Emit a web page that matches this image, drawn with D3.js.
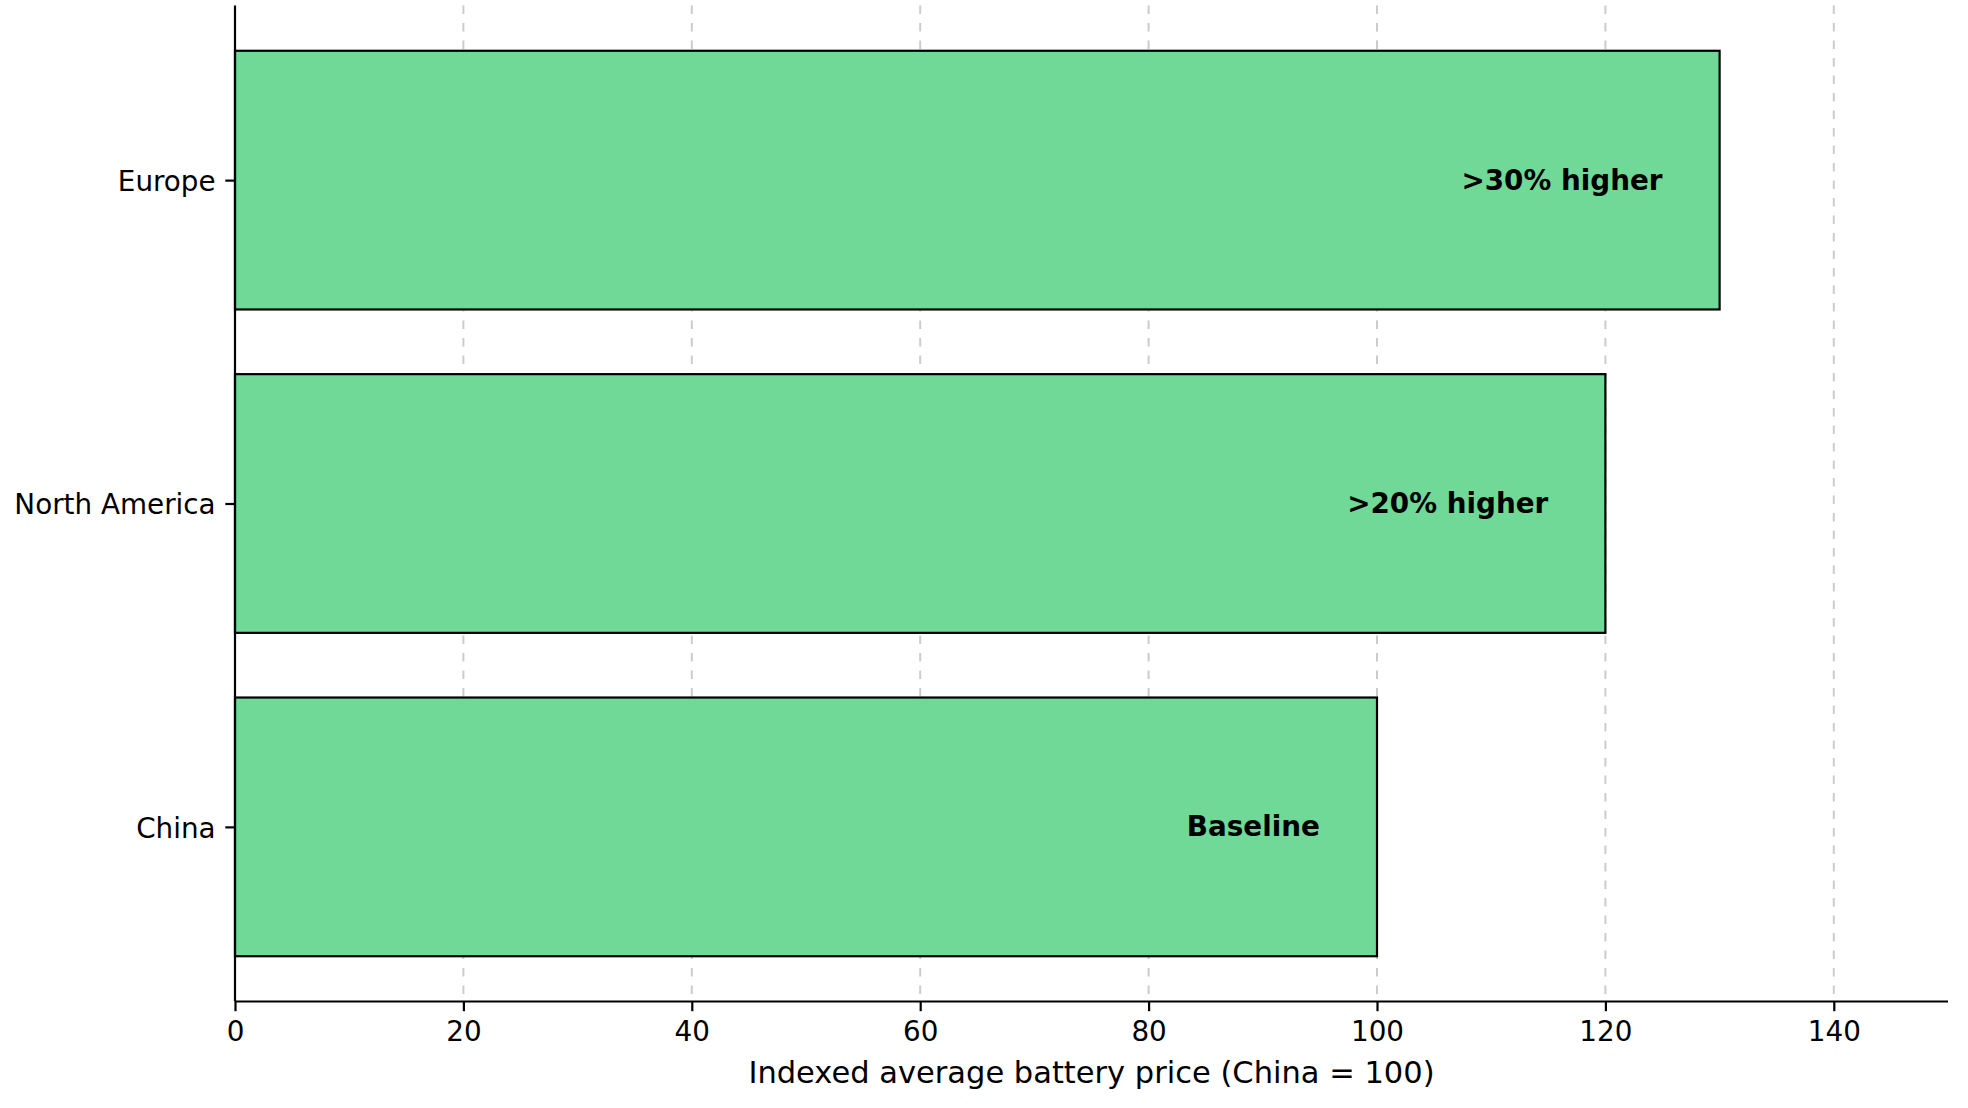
<!DOCTYPE html>
<html>
<head>
<meta charset="utf-8">
<script src="https://cdn.jsdelivr.net/npm/d3@7"></script>
<style>
  html, body { margin: 0; padding: 0; background: #fff; }
  svg { display: block; font-family: "DejaVu Sans", sans-serif; }
</style>
</head>
<body>
<svg id="chart" width="1968" height="1108"></svg>
<script>
const categories = ["China", "North America", "Europe"];
const values = [100, 120, 130];
const annotations = ["Baseline", ">20% higher", ">30% higher"];
const xTicks = [0, 20, 40, 60, 80, 100, 120, 140];
const xLabel = "Indexed average battery price (China = 100)";

(function () {
const pLeft = 235, pRight = 1948, pTop = 5.5, pBottom = 1001.5;
const svg = d3.select("#chart");

const x = d3.scaleLinear().domain([0, 150]).range([pLeft, pRight]);
const y = d3.scaleLinear().domain([-0.54, 2.54]).range([pBottom, pTop]);
const barH = 0.8;

// grid
svg.append("g").selectAll("line").data(xTicks.filter(t => t > 0)).join("line")
  .attr("x1", d => x(d)).attr("x2", d => x(d))
  .attr("y1", pTop).attr("y2", pBottom)
  .attr("stroke", "#cccccc").attr("stroke-width", 2)
  .attr("stroke-dasharray", "8.5,9");

// bars
svg.append("g").selectAll("rect").data(values).join("rect")
  .attr("x", x(0))
  .attr("y", (d, i) => y(i + barH / 2))
  .attr("width", d => x(d) - x(0))
  .attr("height", (d, i) => y(i - barH / 2) - y(i + barH / 2))
  .attr("fill", "#70d997")
  .attr("stroke", "#000").attr("stroke-width", 2.2);

// annotations
svg.append("g").selectAll("text").data(values).join("text")
  .attr("x", d => x(d - 5))
  .attr("y", (d, i) => y(i))
  .attr("text-anchor", "end")
  .attr("dominant-baseline", "central")
  .attr("font-size", 27.8).attr("font-weight", "bold")
  .attr("fill", "#000")
  .text((d, i) => annotations[i]);

// x axis
const xAxis = d3.axisBottom(x).tickValues(xTicks).tickFormat(d3.format("d"))
  .tickSize(9.7).tickPadding(9.7);
const gx = svg.append("g").attr("transform", `translate(0,${pBottom})`).call(xAxis);
gx.select(".domain").attr("stroke-width", 2.2).attr("d", `M${pLeft},0H${pRight}`);
gx.selectAll(".tick line").attr("stroke-width", 2.2);
gx.selectAll(".tick text").attr("font-size", 27.8).attr("font-family", "DejaVu Sans").attr("fill", "#000");

// y axis
const yAxis = d3.axisLeft(y).tickValues([0, 1, 2]).tickFormat(i => categories[i])
  .tickSize(9.7).tickPadding(9.7);
const gy = svg.append("g").attr("transform", `translate(${pLeft},0)`).call(yAxis);
gy.select(".domain").attr("stroke-width", 2.2).attr("d", `M0,${pTop}V${pBottom}`);
gy.selectAll(".tick line").attr("stroke-width", 2.2);
gy.selectAll(".tick text").attr("font-size", 27.8).attr("font-family", "DejaVu Sans")
  .attr("fill", "#000").attr("dy", "0.37em");

// x label
svg.append("text")
  .attr("x", (pLeft + pRight) / 2).attr("y", 1083)
  .attr("text-anchor", "middle")
  .attr("font-size", 30.5).attr("fill", "#000")
  .text(xLabel);
})();
</script>
</body>
</html>
